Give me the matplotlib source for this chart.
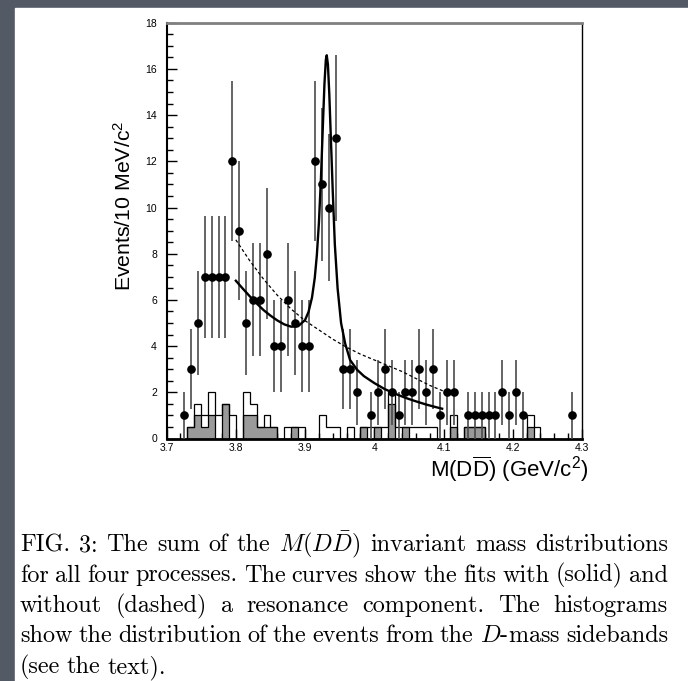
import numpy as np
import matplotlib
matplotlib.use("Agg")
import matplotlib.pyplot as plt
from matplotlib.patches import Rectangle
from matplotlib.ticker import MultipleLocator, FixedLocator, FixedFormatter

plt.rcParams['font.family'] = 'Liberation Sans'
plt.rcParams['mathtext.fontset'] = 'custom'
plt.rcParams['mathtext.rm'] = 'Liberation Sans'
plt.rcParams['mathtext.it'] = 'Liberation Sans:italic'

# M(DDbar) data, 10 MeV bins (bin centres and counts)
mass = [3.725, 3.735, 3.745, 3.755, 3.765, 3.775, 3.785, 3.795, 3.805, 3.815,
        3.825, 3.835, 3.845, 3.855, 3.865, 3.875, 3.885, 3.895, 3.905, 3.915,
        3.925, 3.935, 3.945, 3.955, 3.965, 3.975, 3.995, 4.005, 4.015, 4.025,
        4.035, 4.045, 4.055, 4.065, 4.075, 4.085, 4.095, 4.105, 4.115, 4.135,
        4.145, 4.155, 4.165, 4.175, 4.185, 4.195, 4.205, 4.215, 4.285]
counts = [1, 3, 5, 7, 7, 7, 7, 12, 9, 5,
          6, 6, 8, 4, 4, 6, 5, 4, 4, 12,
          11, 10, 13, 3, 3, 2, 1, 2, 3, 2,
          1, 2, 2, 3, 2, 3, 1, 2, 2, 1,
          1, 1, 1, 1, 2, 1, 2, 1, 1]

# D-mass sideband histograms, bins from 3.73 to 4.24
side_lo, side_hi = 3.73, 4.24
side_open = [0.5, 1.5, 1.0, 2.0, 1.0, 1.5, 1.0, 0.0, 2.0, 1.5,
             0.5, 1.0, 0.5, 0.0, 0.5, 0.5, 0.5, 0.0, 0.0, 1.0,
             0.5, 0.5, 0.0, 0.5, 0.0, 0.5, 0.5, 0.5, 0.5, 2.0,
             0.5, 0.5, 0.5, 0.5, 0.5, 0.5, 0.0, 0.0, 1.0, 0.0,
             0.5, 0.5, 0.5, 0.0, 0.0, 0.0, 0.0, 0.0, 0.0, 1.0,
             0.5]
side_gray = [0.5, 1.0, 0.5, 1.0, 0.0, 1.5, 0.0, 0.0, 1.0, 1.0,
             0.5, 0.5, 0.5, 0.0, 0.0, 0.5, 0.0, 0.0, 0.0, 0.0,
             0.0, 0.0, 0.0, 0.0, 0.0, 0.5, 0.0, 0.5, 0.0, 1.5,
             0.0, 0.5, 0.0, 0.0, 0.0, 0.0, 0.0, 0.0, 0.5, 0.0,
             0.5, 0.5, 0.5, 0.0, 0.0, 0.0, 0.0, 0.0, 0.0, 0.5,
             0.0]

# fit with resonance (solid)
fit_x = [3.800, 3.810, 3.820, 3.830, 3.840, 3.850, 3.860, 3.870, 3.880, 3.890,
         3.900, 3.905, 3.910, 3.914, 3.917, 3.920, 3.923, 3.926, 3.928, 3.930,
         3.9313, 3.933, 3.935, 3.937, 3.940, 3.943, 3.947, 3.952, 3.958, 3.965,
         3.975, 3.985, 4.000, 4.015, 4.030, 4.045, 4.060, 4.075, 4.090, 4.098]
fit_y = [6.83, 6.49, 6.16, 5.85, 5.56, 5.32, 5.11, 4.94, 4.84, 4.86,
         5.13, 5.48, 6.10, 6.95, 7.93, 9.34, 11.31, 13.77, 15.35, 16.39,
         16.59, 16.19, 14.92, 13.22, 10.69, 8.40, 6.50, 5.00, 4.10, 3.40,
         2.98, 2.70, 2.40, 2.14, 1.94, 1.76, 1.61, 1.47, 1.35, 1.29]

# fit without resonance (dashed)
bkg_x = [3.80, 3.82, 3.84, 3.86, 3.88, 3.90, 3.92, 3.94, 3.96, 3.98,
         4.00, 4.02, 4.04, 4.06, 4.08, 4.10]
bkg_y = [8.60, 7.70, 6.90, 6.20, 5.60, 5.10, 4.70, 4.30, 3.95, 3.65,
         3.40, 3.15, 2.90, 2.60, 2.30, 2.05]

xticks = [3.7, 3.8, 3.9, 4.0, 4.1, 4.2, 4.3]
xtick_labels = ['3.7', '3.8', '3.9', '4', '4.1', '4.2', '4.3']
yticks = [0, 2, 4, 6, 8, 10, 12, 14, 16, 18]

caption = [
    "FIG. 3: The sum of the $M(D\\bar{D})$ invariant mass distributions",
    "for all four processes.  The curves show the fits with (solid) and",
    "without (dashed) a resonance component.  The histograms",
    "show the distribution of the events from the $D$-mass sidebands",
    "(see the text).",
]

fig = plt.figure(figsize=(6.88, 6.81), dpi=100, facecolor='#535a66')
# white page on the dark slide background
fig.patches.append(Rectangle((15 / 688, 0), 1, 1 - 8 / 681,
                             transform=fig.transFigure, color='white', zorder=-10))

ax = fig.add_axes([166.6 / 688, 1 - 438.5 / 681, 415.4 / 688, 415.8 / 681])
ax.set_facecolor('white')

# sideband histograms
edges = np.round(np.arange(side_lo, side_hi + 0.0051, 0.01), 3)
ax.stairs(side_gray, edges, fill=True, color='#9a9a9a', zorder=2)
ax.stairs(side_gray, edges, color='k', lw=0.9, zorder=3)
ax.stairs(side_open, edges, color='k', lw=0.9, zorder=3)

# data points with sqrt(N) errors
ax.errorbar(mass, counts, yerr=np.sqrt(counts), fmt='none',
            ecolor='#4a4a4a', elinewidth=1.2, capsize=0, zorder=4)
ax.plot(mass, counts, 'o', color='k', ms=5.2, zorder=6)

# fit curves
ax.plot(fit_x, fit_y, color='k', lw=1.7, zorder=5)
ax.plot(bkg_x, bkg_y, color='k', lw=0.9, ls=(0, (2.5, 2)), zorder=5)

ax.set_xlim(3.7, 4.3)
ax.set_ylim(0, 18)
ax.xaxis.set_major_locator(FixedLocator(xticks))
ax.xaxis.set_major_formatter(FixedFormatter(xtick_labels))
ax.xaxis.set_minor_locator(MultipleLocator(0.02))
ax.yaxis.set_major_locator(FixedLocator(yticks))
ax.yaxis.set_minor_locator(MultipleLocator(0.5))
ax.tick_params(which='both', direction='in', top=False, right=False,
               labelsize=7.5, width=1)
ax.tick_params(which='major', length=7)
ax.tick_params(which='minor', length=4)
ax.tick_params(axis='y', pad=7)
ax.tick_params(axis='x', pad=3.5)

ax.spines['left'].set_linewidth(1.5)
ax.spines['bottom'].set_linewidth(2)
ax.spines['top'].set_linewidth(2)
ax.spines['top'].set_color('#808080')
ax.spines['right'].set_linewidth(1)

fig.text(124 / 688, 1 - 206 / 681, r'Events/10 MeV/c$^{2}$', rotation=90,
         ha='center', va='center', fontsize=15.3)
fig.text(588 / 688, 1 - 469 / 681, r'M(D$\overline{\mathrm{D}}$) (GeV/c$^{2}$)',
         ha='right', va='center', fontsize=16)

# justified caption, word by word
renderer = fig.canvas.get_renderer()
W, H = fig.bbox.width, fig.bbox.height
left_px, right_px = 20, 668
base_px = [551, 581.5, 612, 642.5, 673]
for i, line in enumerate(caption):
    words = line.split()
    texts = [fig.text(0, 1 - base_px[i] / H, w, fontsize=17.4, family='cmr10',
                      math_fontfamily='cm', va='baseline', ha='left')
             for w in words]
    widths = [t.get_window_extent(renderer).width for t in texts]
    if i == len(caption) - 1:
        gap = 6.5
    else:
        gap = (right_px - left_px - sum(widths)) / (len(words) - 1)
    x = left_px
    for t, w in zip(texts, widths):
        t.set_x(x / W)
        x += w + gap

fig.savefig('out.png', dpi=100, facecolor=fig.get_facecolor())
